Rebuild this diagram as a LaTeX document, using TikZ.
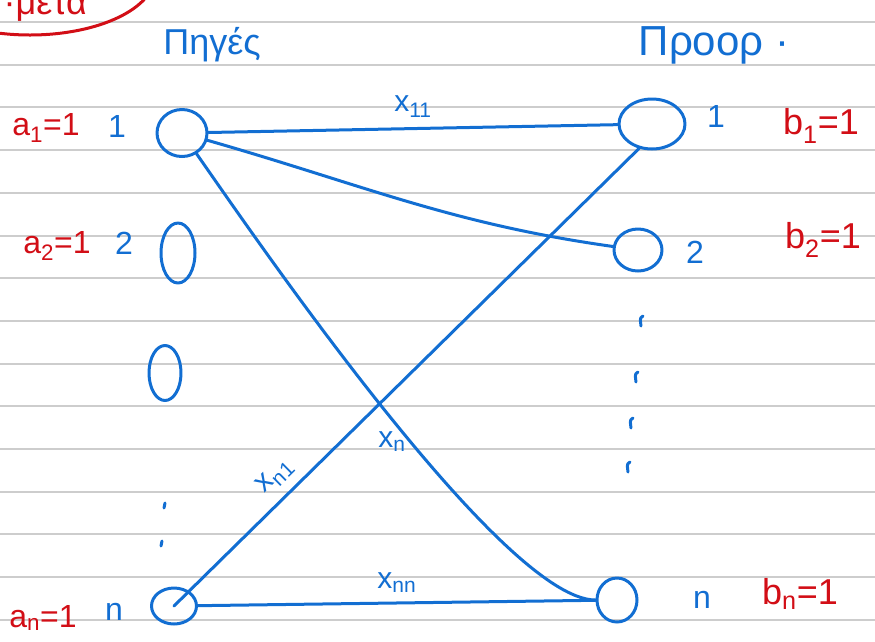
\documentclass[tikz,border=0pt]{standalone}
\usepackage{fontspec}
\setmainfont{Liberation Sans}
\usepackage{xcolor}
\usetikzlibrary{shapes.geometric, positioning}

\definecolor{ink}{RGB}{18,110,210}
\definecolor{redink}{RGB}{210,14,22}
\definecolor{paperline}{RGB}{205,205,205}

\newcommand{\sub}[1]{\textsubscript{#1}}

\begin{document}
\begin{tikzpicture}[x=1pt, y=-1pt, line cap=round, line join=round,
        vertex/.style={ellipse, draw=ink, line width=3pt, inner sep=0pt},
        flow/.style={draw=ink, line width=3pt},
        inklbl/.style={text=ink, font=\fontsize{32}{32}\selectfont},
        redlbl/.style={text=redink, font=\fontsize{32}{32}\selectfont},
        flowlbl/.style={text=ink, font=\fontsize{30}{30}\selectfont}]

        \useasboundingbox (0,0) rectangle (875,641);

        % ruled paper
        \foreach \i in {0,...,14}
            \draw[paperline, line width=2pt] (0,22+42.7*\i) -- (875,22+42.7*\i);

        % heading
        \draw[redink, line width=3pt] (30,-25) ellipse [x radius=125, y radius=60];
        \node[redlbl, anchor=base west, font=\fontsize{36}{36}\selectfont] (topic) at (0,14) {·μετα};
        \node[inklbl, font=\fontsize{36}{36}\selectfont] (src) at (212,45) {Πηγές};
        \node[inklbl, font=\fontsize{42}{42}\selectfont] (dst) at (714,45) {Προορ ·};

        % sources
        \node[vertex, minimum width=50pt, minimum height=47pt] (s1) at (182,133) {};
        \node[vertex, minimum width=34pt, minimum height=60pt] (s2) at (178,253) {};
        \node[vertex, minimum width=32pt, minimum height=55pt] (s3) at (165,373) {};
        \node[vertex, minimum width=45pt, minimum height=36pt] (sn) at (174,606) {};

        % destinations
        \node[vertex, minimum width=66pt, minimum height=50pt] (t1) at (652,124) {};
        \node[vertex, minimum width=48pt, minimum height=42pt] (t2) at (638,250) {};
        \node[vertex, minimum width=40pt, minimum height=44pt] (tn) at (617,600) {};

        % numbers
        \node[inklbl] (n1) at (117,126) {1};
        \node[inklbl] (n2) at (124,243) {2};
        \node[inklbl] (nn) at (114,612) {n};
        \node[inklbl] (m1) at (716,116) {1};
        \node[inklbl] (m2) at (695,252) {2};
        \node[inklbl] (mn) at (702,600) {n};

        % supplies and demands
        \node[redlbl] (a1) at (46,128) {a\sub{1}=1};
        \node[redlbl] (a2) at (57,246) {a\sub{2}=1};
        \node[redlbl] (an) at (43,618) {a\sub{n}=1};
        \node[redlbl, font=\fontsize{36}{36}\selectfont] (b1) at (821,126) {b\sub{1}=1};
        \node[redlbl, font=\fontsize{36}{36}\selectfont] (b2) at (823,240) {b\sub{2}=1};
        \node[redlbl, font=\fontsize{36}{36}\selectfont] (bn) at (800,594) {b\sub{n}=1};

        % dots
        \foreach \x/\y in {165/503, 162/541}
            \draw[flow] (\x,\y) -- ++(-1,5);
        \foreach \x/\y in {643/316, 638/372, 633/418, 630/462}
            \draw[flow] (\x,\y) .. controls ++(-3,2) .. ++(-2,10);

        \path[flow]
        (s1) edge node[flowlbl, above=6pt] {x\sub{11}} (t1)
        (s1) edge[out=-16, in=172] (t2)
        (s1) edge[out=-55, in=180, looseness=0.4] node[flowlbl, pos=0.56, left=0pt] {x\sub{n}} (tn)
        (sn.center) edge node[flowlbl, sloped, above=6pt, pos=0.25] {x\sub{n1}} (t1.-118)
        (sn) edge node[flowlbl, above=6pt] {x\sub{nn}} (tn);

    \end{tikzpicture}
\end{document}
